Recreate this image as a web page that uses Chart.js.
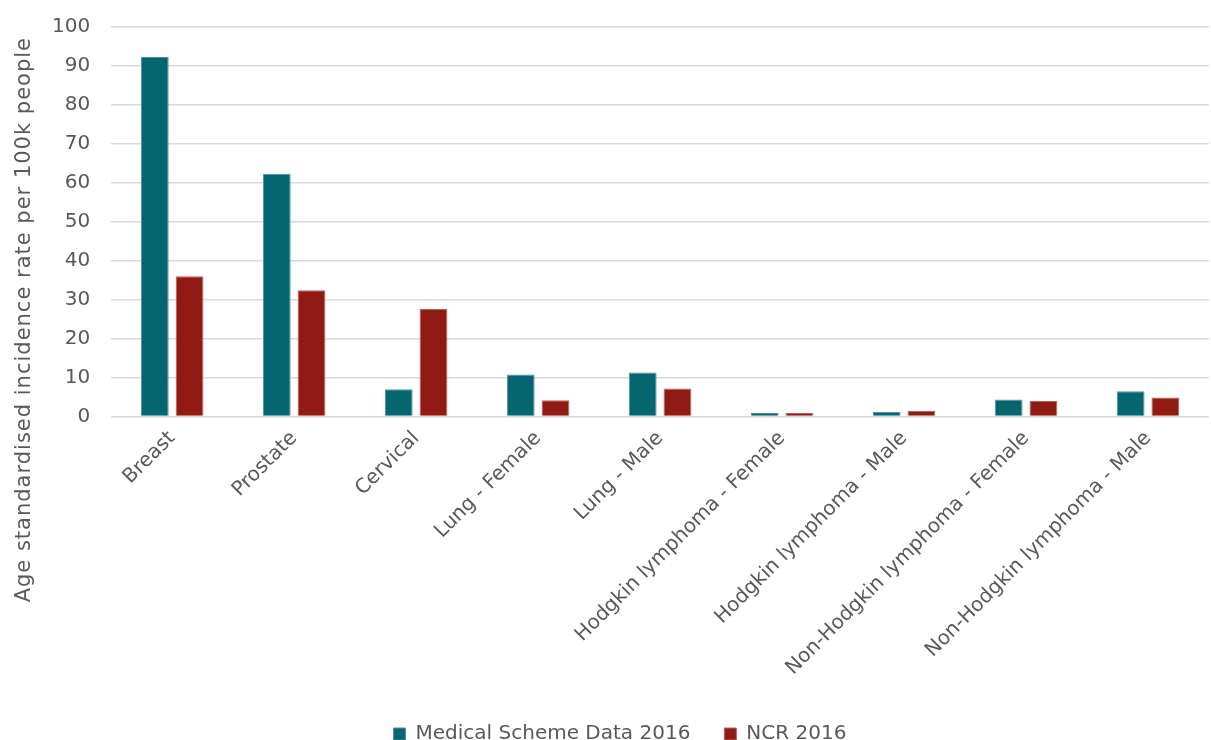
<!DOCTYPE html>
<html>
<head>
<meta charset="utf-8">
<script src="https://cdn.jsdelivr.net/npm/chart.js@4/dist/chart.umd.min.js"></script>
<style>
  html, body { margin: 0; padding: 0; background: #fff; }
  #wrap { width: 1211px; height: 740px; }
</style>
</head>
<body>
<div id="wrap"><canvas id="cancerChart" width="1211" height="740"></canvas></div>
<script>
// Age standardised incidence, medical schemes vs NCR (2016)
const cancerTypes = [
  'Breast', 'Prostate', 'Cervical', 'Lung - Female', 'Lung - Male',
  'Hodgkin lymphoma - Female', 'Hodgkin lymphoma - Male',
  'Non-Hodgkin lymphoma - Female', 'Non-Hodgkin lymphoma - Male'
];
const medicalScheme2016 = [92.3, 62.3, 7.0, 10.8, 11.3, 0.9, 1.2, 4.4, 6.5];
const ncr2016 = [36.0, 32.4, 27.6, 4.2, 7.2, 0.9, 1.4, 4.0, 4.9];
const yTicks = [0, 10, 20, 30, 40, 50, 60, 70, 80, 90, 100];
const yTitle = 'Age standardised incidence rate per 100k people';

const textGrey = '#595959';
const font = '"DejaVu Sans", Verdana, sans-serif';

// y title is centred on the whole canvas height, not on the plot area
const sideTitle = {
  id: 'sideTitle',
  afterDraw(chart) {
    const c = chart.ctx;
    c.save();
    c.translate(25, chart.height * 0.432);
    c.rotate(-Math.PI / 2);
    c.font = `21px ${font}`;
    c.letterSpacing = '1px';
    c.fillStyle = textGrey;
    c.textAlign = 'center';
    c.textBaseline = 'middle';
    c.fillText(yTitle, 0, 0);
    c.restore();
  }
};

const ctx = document.getElementById('cancerChart').getContext('2d');
new Chart(ctx, {
  type: 'bar',
  data: {
    labels: cancerTypes,
    datasets: [
      {
        label: 'Medical Scheme Data 2016',
        data: medicalScheme2016,
        backgroundColor: '#05666F',
        borderColor: '#4E9399',
        borderWidth: 1
      },
      {
        label: 'NCR 2016',
        data: ncr2016,
        backgroundColor: '#921A14',
        borderColor: '#B8605B',
        borderWidth: 1
      }
    ]
  },
  options: {
    responsive: false,
    animation: false,
    layout: { padding: { left: 31, right: 2, top: 27, bottom: -14 } },
    datasets: {
      bar: { categoryPercentage: 0.57, barPercentage: 0.8 }
    },
    scales: {
      x: {
        grid: { display: false, drawTicks: false },
        border: { display: false },
        ticks: {
          color: textGrey,
          font: { family: font, size: 20 },
          maxRotation: 45,
          minRotation: 45,
          autoSkip: false,
          padding: 10
        }
      },
      y: {
        min: 0,
        max: 100,
        afterBuildTicks: axis => {
          axis.ticks = yTicks.map(v => ({ value: v }));
        },
        // the label gap should not push the plot top down
        afterFit: axis => {
          axis.paddingTop = 0;
          axis.paddingBottom = 0;
        },
        grid: { color: '#D9D9D9', lineWidth: 1.5, drawTicks: false },
        border: { display: false },
        ticks: {
          color: textGrey,
          font: { family: font, size: 20 },
          padding: 21
        }
      }
    },
    plugins: {
      legend: {
        position: 'bottom',
        labels: {
          color: textGrey,
          font: { family: font, size: 20 },
          boxWidth: 12,
          boxHeight: 12,
          padding: 34
        }
      },
      tooltip: { enabled: false }
    }
  },
  plugins: [sideTitle]
});
</script>
</body>
</html>
